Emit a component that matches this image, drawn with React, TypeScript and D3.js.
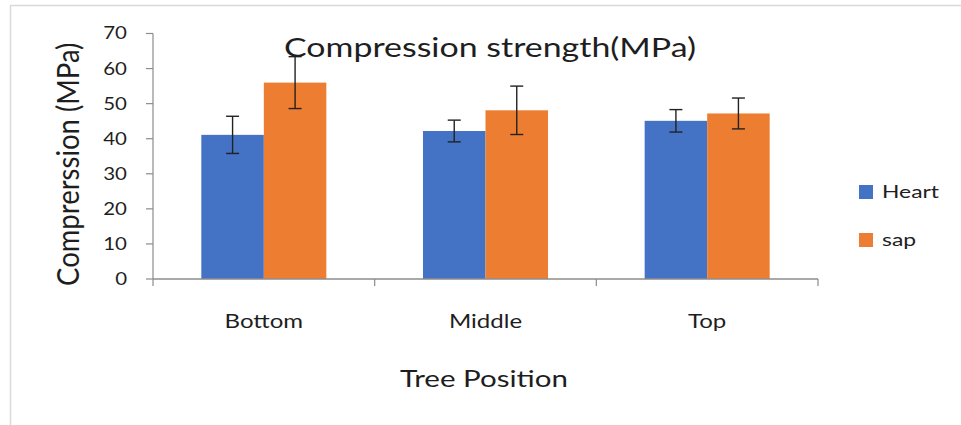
import { useEffect, useRef } from "react";
import { scaleLinear, scaleBand, select } from "d3";

const WIDTH = 961;
const HEIGHT = 425;
const PLOT = { left: 153, right: 818, top: 33.5, bottom: 279 };

const POSITIONS = ["Bottom", "Middle", "Top"];
const SERIES = ["Heart", "sap"];
const HEART = [41.1, 42.2, 45.1];
const SAP = [56.0, 48.1, 47.2];
const HEART_ERR = [5.3, 3.1, 3.2];
const SAP_ERR = [7.4, 6.9, 4.4];
const Y_TICKS = [0, 10, 20, 30, 40, 50, 60, 70];

const BLUE = "#4472c4";
const ORANGE = "#ed7d31";
const AXIS = "#8c8c8c";
const TEXT = "#1e1e1e";
const FONT = "Lato, 'Open Sans', sans-serif";

export default function App() {
  const svgRef = useRef<SVGSVGElement>(null);

  useEffect(() => {
    const svg = select(svgRef.current);
    svg.selectAll("*").remove();
    svg.attr("width", WIDTH).attr("height", HEIGHT);

    // the source picture is stretched sideways, so text gets an x scale
    const label = (
      tx: number,
      ty: number,
      str: string,
      size: number,
      anchor: string,
      sx: number,
      dy = "0",
    ) =>
      svg.append("text")
        .attr("transform", `translate(${tx},${ty}) scale(${sx},1)`)
        .attr("dy", dy)
        .attr("text-anchor", anchor)
        .attr("font-family", FONT)
        .attr("font-size", size)
        .attr("fill", TEXT)
        .text(str);

    const x = scaleBand<string>()
      .domain(POSITIONS)
      .range([PLOT.left, PLOT.right])
      .paddingInner(0.436)
      .paddingOuter(0.218);
    const x1 = scaleBand<string>().domain(SERIES).range([0, x.bandwidth()]);
    const y = scaleLinear().domain([0, 70]).range([PLOT.bottom, PLOT.top]);
    const step = x.step();

    // frame (top + left edges only)
    svg.append("path")
      .attr("d", `M10.5,${HEIGHT} V5.5 H${WIDTH}`)
      .attr("fill", "none")
      .attr("stroke", "#d9d9d9")
      .attr("stroke-width", 1.5);

    const data = [
      { key: "Heart", vals: HEART, errs: HEART_ERR, color: BLUE },
      { key: "sap", vals: SAP, errs: SAP_ERR, color: ORANGE },
    ];

    // bars
    data.forEach((s) => {
      POSITIONS.forEach((p, i) => {
        const v = s.vals[i];
        svg.append("rect")
          .attr("x", (x(p) ?? 0) + (x1(s.key) ?? 0))
          .attr("y", y(v))
          .attr("width", x1.bandwidth())
          .attr("height", y(0) - y(v))
          .attr("fill", s.color);
      });
    });

    // y axis
    svg.append("line")
      .attr("x1", PLOT.left).attr("x2", PLOT.left)
      .attr("y1", y(70)).attr("y2", y(0))
      .attr("stroke", AXIS).attr("stroke-width", 1.2);
    Y_TICKS.forEach((t) => {
      svg.append("line")
        .attr("x1", PLOT.left - 7).attr("x2", PLOT.left)
        .attr("y1", y(t)).attr("y2", y(t))
        .attr("stroke", AXIS).attr("stroke-width", 1.2);
      label(127, y(t), String(t), 16.5, "end", 1.24, "0.36em");
    });

    // x axis
    svg.append("line")
      .attr("x1", PLOT.left).attr("x2", PLOT.right)
      .attr("y1", y(0)).attr("y2", y(0))
      .attr("stroke", AXIS).attr("stroke-width", 1.5);
    [PLOT.left, ...POSITIONS.map((p) => (x(p) ?? 0) - (step - x.bandwidth()) / 2 + step)].forEach((tx) => {
      svg.append("line")
        .attr("x1", tx).attr("x2", tx)
        .attr("y1", y(0)).attr("y2", y(0) + 7)
        .attr("stroke", AXIS).attr("stroke-width", 1.2);
    });
    POSITIONS.forEach((p) => {
      label((x(p) ?? 0) + x.bandwidth() / 2, 328, p, 18.5, "middle", 1.3);
    });

    // error bars
    data.forEach((s) => {
      POSITIONS.forEach((p, i) => {
        const cx = (x(p) ?? 0) + (x1(s.key) ?? 0) + x1.bandwidth() / 2;
        const lo = y(s.vals[i] - s.errs[i]);
        const hi = y(s.vals[i] + s.errs[i]);
        const eg = svg.append("g").attr("stroke", "#222").attr("stroke-width", 1.4);
        eg.append("line").attr("x1", cx).attr("x2", cx).attr("y1", lo).attr("y2", hi);
        [lo, hi].forEach((yy) => {
          eg.append("line").attr("x1", cx - 6.5).attr("x2", cx + 6.5).attr("y1", yy).attr("y2", yy);
        });
      });
    });

    // titles
    label(490, 57, "Compression strength(MPa)", 26.5, "middle", 1.28);
    label(484, 387, "Tree Position", 24, "middle", 1.23);

    svg.append("text")
      .attr("transform", `translate(79,${(PLOT.top + PLOT.bottom) / 2 + 8}) scale(1.15,1) rotate(-90)`)
      .attr("text-anchor", "middle")
      .attr("font-family", FONT)
      .attr("font-size", 27.5)
      .attr("fill", TEXT)
      .text("Comprerssion (MPa)");

    // legend
    data.forEach((s, i) => {
      const ly = 185 + i * 48;
      svg.append("rect")
        .attr("x", 859).attr("y", ly)
        .attr("width", 14).attr("height", 14)
        .attr("fill", s.color);
      label(882, ly + 7, s.key, 18, "start", 1.27, "0.36em");
    });
  }, []);

  return (
    <svg
      ref={svgRef}
      style={{ position: "absolute", left: 0, top: 0, background: "#fff" }}
    />
  );
}
